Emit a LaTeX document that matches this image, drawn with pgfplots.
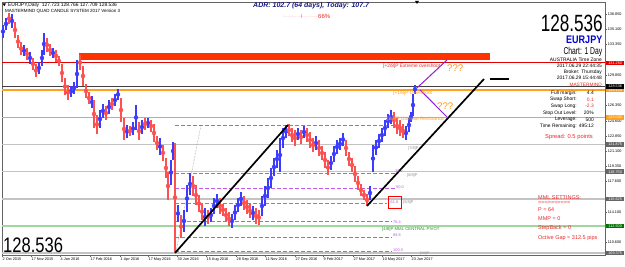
\documentclass[border=0pt]{standalone}
\usepackage{fontspec}
\setmainfont{Liberation Sans}
\usepackage{pgfplots}
\usepackage{pgfplotstable}
\pgfplotsset{compat=1.18}
\definecolor{upc}{RGB}{60,60,255}
\definecolor{dnc}{RGB}{255,80,80}
\definecolor{zonec}{RGB}{255,51,0}
\definecolor{mmlred}{RGB}{225,0,0}
\definecolor{orgL}{RGB}{255,160,30}
\definecolor{grayL}{RGB}{195,195,195}
\definecolor{greenL}{RGB}{160,215,160}
\definecolor{fibc}{RGB}{190,90,230}
\definecolor{trendp}{RGB}{150,30,210}
\definecolor{navyc}{RGB}{25,25,130}
\definecolor{txtred}{RGB}{235,40,40}
\definecolor{qorange}{RGB}{255,150,20}
\definecolor{framec}{RGB}{100,100,100}
\definecolor{greenT}{RGB}{30,150,30}
\definecolor{grayT}{RGB}{140,140,140}
\definecolor{pinkc}{RGB}{255,130,150}
\newcommand{\fs}[1]{\fontsize{#1bp}{#1bp}\selectfont}

% up (blue) bars: x position, low, high
\pgfplotstableread{
x l h
3 134.12 135.61
6 135.04 136.42
12 135.27 136.88
24 132.05 133.31
30 131.13 132.51
39 129.98 131.36
42 130.90 132.74
44 132.16 134.69
53 131.82 132.97
71 127.33 128.60
74 127.68 129.06
77 128.37 131.59
92 126.07 127.45
100 123.77 125.84
103 124.92 126.53
109 125.38 126.99
115 126.30 127.68
118 126.99 128.26
127 122.62 124.12
133 122.97 124.46
136 123.54 126.41
142 123.08 124.69
148 123.77 124.92
160 120.67 122.62
171 117.22 120.09
173 120.09 122.16
178 112.97 114.92
184 111.82 114.35
187 114.12 117.22
190 116.07 118.60
205 112.51 114.58
211 112.97 114.58
214 113.89 115.73
217 114.58 116.19
232 112.28 113.89
235 113.20 114.92
238 114.12 115.73
241 114.81 116.42
253 113.20 114.81
262 113.66 115.96
265 114.81 117.10
268 115.73 118.03
271 116.88 119.17
274 118.26 120.32
277 119.17 121.24
280 118.71 122.62
283 121.47 123.77
286 122.62 124.12
298 122.39 123.77
304 122.62 124.00
316 121.24 122.85
331 118.94 120.55
334 119.86 121.70
337 120.78 122.39
340 121.24 122.62
343 121.70 123.20
370 115.50 117.10
373 118.71 121.82
376 120.67 122.39
379 121.47 123.08
382 122.16 123.77
385 122.85 124.69
388 123.77 125.38
391 124.23 125.84
406 122.39 124.00
409 123.31 124.92
411 124.46 125.61
413 125.15 127.68
415 127.709 128.766
}\upbars

% down (red) bars: x position, low, high
\pgfplotstableread{
x l h
9 135.73 136.99
15 134.12 135.96
18 132.97 134.46
21 132.16 133.66
27 131.59 132.97
33 130.44 131.82
36 129.63 131.13
47 132.51 134.12
50 132.05 133.43
56 131.36 132.74
59 130.90 132.05
62 129.06 131.13
65 127.56 129.52
68 126.99 128.71
80 130.44 132.16
83 128.60 130.90
86 127.22 128.83
89 126.53 127.91
94 123.77 126.99
97 123.08 125.27
106 124.69 126.30
112 125.84 127.22
121 124.46 127.22
124 122.39 124.92
130 122.85 124.00
139 122.39 124.46
145 123.54 124.92
151 123.31 124.69
154 122.16 124.23
157 121.24 122.85
163 120.00 121.82
166 118.03 120.32
168 115.50 118.71
175 109.52 122.05
181 111.13 113.77
193 115.96 118.26
196 114.92 117.22
199 114.12 116.07
202 113.20 115.15
208 112.74 114.35
220 113.89 115.73
223 113.66 115.04
226 112.97 114.58
229 112.51 114.12
244 114.35 115.96
247 113.89 115.50
250 113.43 115.04
256 112.74 114.58
259 112.62 114.35
289 122.85 124.23
292 122.16 123.77
295 121.70 123.54
301 121.93 123.54
307 122.16 123.77
310 121.47 123.31
313 121.01 122.62
319 120.55 122.39
322 120.09 121.70
325 119.17 121.01
328 118.37 120.09
346 120.55 122.39
349 119.40 121.01
352 118.71 120.32
355 117.56 119.40
358 116.65 118.26
361 115.96 117.33
364 115.50 116.65
367 114.81 116.19
394 123.77 125.61
397 123.08 124.92
400 122.85 124.69
403 122.62 124.23
}\dnbars

\begin{document}
\begin{tikzpicture}
\useasboundingbox (0,0) rectangle (625bp,267bp);
\fill[white] (0,0) rectangle (625bp,267bp);
\begin{axis}[
  at={(2bp,12bp)}, anchor=south west,
  scale only axis, width=603bp, height=253bp,
  xmin=2, xmax=605, ymin=109.17, ymax=138.25,
  clip mode=individual,
  axis line style={draw=framec, line width=0.8bp},
  xtick={2,31,60,90,120,148,177,206,236,265,295,323,353,382,411},
  xticklabels={2 Oct 2015,17 Nov 2015,4 Jan 2016,17 Feb 2016,1 Apr 2016,17 May 2016,30 Jun 2016,15 Aug 2016,28 Sep 2016,11 Nov 2016,27 Dec 2016,9 Feb 2017,27 Mar 2017,10 May 2017,23 Jun 2017},
  xtick pos=lower, ytick pos=right, yticklabel pos=right,
  ytick={110.6,114.1,117.6,119.35,121.1,122.85,124.6,126.35,129.85,133.35,135.1,136.85},
  yticklabels={110.600,114.100,117.600,119.350,121.100,122.850,124.600,126.350,129.850,133.350,135.100,136.850},
  tick align=outside, major tick length=2bp,
  tick style={draw=framec, line width=0.4bp},
  xticklabel style={font=\fs{3.8}, anchor=north west, inner sep=0.5bp},
  yticklabel style={font=\fs{3.8}, anchor=west, inner sep=0.6bp},
  /pgf/number format/assume math mode=true,
]
% Murrey math lines
\addplot[grayL, line width=1.6bp] coordinates {(2,121.875) (605,121.875)};
\addplot[grayL, line width=1.6bp] coordinates {(2,118.75) (605,118.75)};
\addplot[grayL, line width=1.6bp] coordinates {(2,115.625) (605,115.625)};
\addplot[grayL, line width=1.6bp] coordinates {(2,109.375) (605,109.375)};
\addplot[greenL, line width=1.6bp] coordinates {(2,112.5) (605,112.5)};
\addplot[orgL, line width=1.4bp] coordinates {(2,125.0) (605,125.0)};
\addplot[orgL, line width=1.4bp] coordinates {(2,128.125) (605,128.125)};
\addplot[mmlred, line width=0.9bp] coordinates {(2,131.25) (605,131.25)};
\addplot[black!75, line width=0.6bp] coordinates {(2,128.536) (605,128.536)};
% red zone
\addplot[fill=zonec, draw=none] coordinates {(79,131.59) (490,131.59) (490,132.36) (79,132.36)} -- cycle;
% fibonacci levels
\addplot[fibc, line width=1bp, dash pattern=on 4bp off 2bp] coordinates {(175,124.10) (395,124.10)};
\addplot[fibc, line width=1bp, dash pattern=on 4bp off 2bp] coordinates {(175,118.54) (395,118.54)};
\addplot[fibc, line width=1bp, dash pattern=on 4bp off 2bp] coordinates {(175,116.83) (395,116.83)};
\addplot[fibc, line width=1bp, dash pattern=on 4bp off 2bp] coordinates {(175,115.11) (387,115.11)};
\addplot[fibc, line width=1bp, dash pattern=on 4bp off 2bp] coordinates {(175,112.98) (392,112.98)};
\addplot[fibc, line width=1bp, dash pattern=on 4bp off 2bp] coordinates {(175,111.21) (392,111.21)};
\addplot[fibc, line width=1bp, dash pattern=on 4bp off 2bp] coordinates {(175,109.55) (392,109.55)};
% dotted projection
\addplot[black!45, line width=0.5bp, densely dotted] coordinates {(176,109.52) (201,124.12)};
% candles
\addplot[upc, only marks, mark=none, error bars/.cd, y dir=both, y explicit, error mark=none,
  error bar style={line width=1.5bp, draw=upc}]
  table[x=x, y expr={(\thisrow{l}+\thisrow{h})/2}, y error expr={(\thisrow{h}-\thisrow{l})/2}] {\upbars};
\addplot[dnc, only marks, mark=none, error bars/.cd, y dir=both, y explicit, error mark=none,
  error bar style={line width=1.5bp, draw=dnc}]
  table[x=x, y expr={(\thisrow{l}+\thisrow{h})/2}, y error expr={(\thisrow{h}-\thisrow{l})/2}] {\dnbars};
% trend lines
\addplot[black, line width=1.7bp] coordinates {(175,109.40) (288,124.12)};
\addplot[black, line width=1.7bp] coordinates {(367,114.81) (484,129.40)};
\addplot[black, line width=1.7bp] coordinates {(490,129.40) (509,129.40)};
\addplot[trendp, line width=1bp] coordinates {(417,128.37) (447,131.59)};
\addplot[trendp, line width=1bp] coordinates {(420,128.14) (448,124.92)};
\end{axis}

\begin{scope}[shift={(0,267bp)}, x=1bp, y=-1bp, every node/.style={inner sep=0pt}]
% header
\fill[black] (2.5,3.3) -- (6,3.3) -- (4.25,6.2) -- cycle;
\node[anchor=west, font=\fs{4.9}] at (8,5) {EURJPY,Daily\ \ 127.723 128.766 127.709 128.536};
\node[anchor=west, font=\fs{4.5}] at (5,11) {MASTERMIND QUAD CANDLE SYSTEM 2017 Version 3};
\node[anchor=west, font=\fs{7}\bfseries\itshape, text=navyc] at (253,6) {ADR: 102.7 (64 days), Today: 107.7};
\node[anchor=west, font=\fs{4}, text=pinkc] at (283,16) {:.......:.......\textcolor{mmlred}{|}.......:.......};
\node[anchor=west, font=\fs{6}, text=txtred] at (318,16) {66\%};
\fill[black] (415,1) -- (419,1) -- (417,4) -- cycle;
% right info block
\node[anchor=south east, font=\fs{23.5}] at (603,32) {\scalebox{0.73}[1]{128.536}};
\node[anchor=north east, font=\fs{11}\bfseries, text=blue!85!black] at (602.5,36) {\scalebox{0.82}[1]{EURJPY}};
\node[anchor=east, font=\fs{10}] at (602.5,52.2) {\scalebox{0.68}[1]{Chart: 1 Day}};
\node[anchor=east, font=\fs{4.9}] at (602,60) {AUSTRALIA Time Zone};
\node[anchor=east, font=\fs{4.9}] at (602,66) {2017.06.29 22:44:35};
\node[anchor=east, font=\fs{4.9}] at (602,72) {Broker: Thursday};
\node[anchor=east, font=\fs{4.9}] at (602,77.5) {2017.06.29 15:44:48};
\node[anchor=east, font=\fs{4.8}, text=txtred] at (602,84.5) {MASTERMIND};
\node[anchor=east, font=\fs{4.9}] at (577,93) {Full margin:};
\node[anchor=east, font=\fs{4.9}] at (577,99.7) {Swap Short:};
\node[anchor=east, font=\fs{4.9}] at (577,106.3) {Swap Long:};
\node[anchor=east, font=\fs{4.9}] at (577,113) {Stop Out Level:};
\node[anchor=east, font=\fs{4.9}] at (577,119.7) {Leverage:};
\node[anchor=east, font=\fs{4.9}] at (577,126.3) {Time Remaining:};
\node[anchor=east, font=\fs{4.9}] at (594,93) {4.4};
\node[anchor=east, font=\fs{4.9}, text=txtred] at (594,99.7) {0.1};
\node[anchor=east, font=\fs{4.9}, text=txtred] at (594,106.3) {-2.3};
\node[anchor=east, font=\fs{4.9}] at (594,113) {20\%};
\node[anchor=east, font=\fs{4.9}] at (594,119.7) {500};
\node[anchor=east, font=\fs{4.9}] at (594,126.3) {495:12};
\node[anchor=west, font=\fs{5.8}, text=txtred] at (545,137) {Spread: 0.5 points};
% MML settings
\node[anchor=west, font=\fs{5.5}, text=txtred] at (538,198) {MML SETTINGS:};
\node[anchor=west, font=\fs{5.5}, text=txtred] at (538,203.5) {==========};
\node[anchor=west, font=\fs{5.5}, text=txtred] at (538,210) {P = 64};
\node[anchor=west, font=\fs{5.5}, text=txtred] at (538,219) {MMP = 0};
\node[anchor=west, font=\fs{5.5}, text=txtred] at (538,228.5) {StepBack = 0};
\node[anchor=west, font=\fs{5.5}, text=txtred] at (538,238) {Octive Gap = 312.5 pips};
% level annotations
\node[anchor=west, font=\fs{4.8}, text=txtred] at (383,66.5) {[+2/8]P Extreme overshoot};
\node[anchor=west, font=\fs{4.8}, text=orgL] at (393,93) {[+1/8]P Overshoot};
\node[anchor=west, font=\fs{4.8}, text=orgL] at (387,119.5) {[8/8]P Ultimate Resistance};
\node[anchor=west, font=\fs{9.6}, text=qorange] at (447,68.5) {???};
\node[anchor=west, font=\fs{9.6}, text=qorange] at (437,106.5) {???};
\node[anchor=west, font=\fs{3.9}, text=grayT] at (408,148) {[7/8]P};
\node[anchor=west, font=\fs{3.9}, text=grayT] at (407,175) {[6/8]P};
\node[anchor=west, font=\fs{3.9}, text=grayT] at (403,202) {[5/8]P};
\node[anchor=west, font=\fs{4.3}, text=greenT] at (382,229) {[4/8]P MML CENTRAL PIVOT};
\node[anchor=west, font=\fs{3.5}, text=grayT] at (420,253.3) {[3/8]P};
\node[anchor=west, font=\fs{3.9}, text=fibc] at (395,171.5) {38.2};
\node[anchor=west, font=\fs{3.9}, text=fibc] at (396,187) {50.0};
\node[anchor=center, font=\fs{3.9}, text=fibc] at (394.5,202) {61.8};
\draw[red, line width=0.6bp] (388,196) rectangle (401,208);
\node[anchor=west, font=\fs{3.9}, text=fibc] at (393,222) {76.4};
\node[anchor=west, font=\fs{3.9}, text=fibc] at (393,235.5) {88.6};
\node[anchor=west, font=\fs{3.9}, text=fibc] at (393,250) {100.0};
% big price bottom-left
\node[anchor=west, font=\fs{21}] at (3,245.5) {\scalebox{0.79}[1]{128.536}};
% highlighted price labels on the scale
\tikzset{pl/.style={anchor=west, font=\fs{3.8}, text=white, inner xsep=0.8bp, inner ysep=0.9bp, minimum width=18bp}}
\node[pl, fill=mmlred] at (606,62.9) {131.250};
\node[pl, fill=orgL] at (606,90.1) {128.125};
\node[pl, fill=black] at (606,86.5) {128.536};
\node[pl, fill=orgL] at (606,117.3) {125.000};
\node[pl, fill=black!60] at (606,144.5) {121.875};
\node[pl, fill=black!60] at (606,171.7) {118.750};
\node[pl, fill=black!60] at (606,198.9) {115.625};
\node[pl, fill=green!45!black] at (606,226.1) {112.500};
\node[pl, fill=black!60] at (606,253.2) {109.375};
\end{scope}
\end{tikzpicture}
\end{document}
